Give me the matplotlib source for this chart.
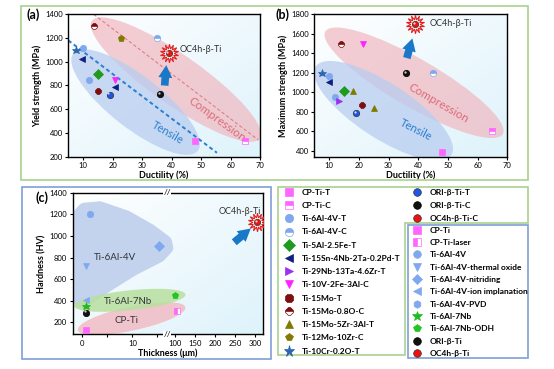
import numpy as np
import matplotlib
matplotlib.use("Agg")
import matplotlib.pyplot as plt
from matplotlib.patches import Ellipse, Polygon, Rectangle
from matplotlib.lines import Line2D
from matplotlib.transforms import ScaledTranslation
from matplotlib.colors import LinearSegmentedColormap

plt.rcParams['font.family'] = ['Lato', 'DejaVu Sans']

# ---- data ----
a_names = ['Ti-15Mo-0.8O-C', 'Ti-12Mo-10Zr-C', 'Ti-6Al-4V-C', 'Ti-6Al-4V-T',
           'Ti-10Cr-0.2O-T', 'Ti-15Sn-4Nb-2Ta-0.2Pd-T', 'Ti-6Al-4V-T', 'Ti-5Al-2.5Fe-T',
           'Ti-15Mo-T', 'Ti-10V-2Fe-3Al-C', 'Ti-15Sn-4Nb-2Ta-0.2Pd-T', 'ORI-β-Ti-T',
           'ORI-β-Ti-C', 'CP-Ti-T', 'CP-Ti-C', 'OC4h-β-Ti-C']
a_ductility = [13.6, 23, 35, 10, 7.7, 9.5, 12, 15, 15, 21, 20.8, 19, 36, 48, 65, 39]
a_yield = [1300, 1200, 1200, 1120, 1100, 1020, 845, 895, 750, 850, 790, 723, 725, 333, 333, 1070]

b_names = ['Ti-15Mo-0.8O-C', 'Ti-10V-2Fe-3Al-C', 'ORI-β-Ti-C', 'Ti-6Al-4V-C',
           'Ti-10Cr-0.2O-T', 'Ti-6Al-4V-T', 'Ti-15Sn-4Nb-2Ta-0.2Pd-T', 'Ti-5Al-2.5Fe-T',
           'Ti-15Mo-5Zr-3Al-T', 'Ti-6Al-4V-T', 'Ti-29Nb-13Ta-4.6Zr-T', 'Ti-15Mo-T',
           'Ti-15Mo-5Zr-3Al-T', 'ORI-β-Ti-T', 'CP-Ti-C', 'CP-Ti-T', 'OC4h-β-Ti-C']
b_ductility = [14, 21.3, 36, 45, 7.7, 10, 9.8, 15, 18, 12, 13.3, 21, 25, 19, 65, 48, 39]
b_strength = [1500, 1500, 1200, 1200, 1200, 1167, 1110, 1016, 1015, 955, 906, 865, 835, 783, 600, 390, 1700]

c_names = ['Ti-6Al-4V', 'Ti-6Al-4V-nitriding', 'Ti-6Al-4V-thermal oxide',
           'Ti-6Al-4V-ion implanation', 'Ti-6Al-7Nb', 'ORI-β-Ti', 'CP-Ti',
           'Ti-6Al-7Nb-ODH', 'CP-Ti-laser', 'OC4h-β-Ti']
c_thickness = [1.5, 15.4, 0.7, 0.7, 0.7, 0.7, 0.7, 98, 105, 305]
c_hardness = [1206, 906, 720, 407, 350, 290, 130, 455, 305, 1130]

legend_left = ['CP-Ti-T', 'CP-Ti-C', 'Ti-6Al-4V-T', 'Ti-6Al-4V-C', 'Ti-5Al-2.5Fe-T',
               'Ti-15Sn-4Nb-2Ta-0.2Pd-T', 'Ti-29Nb-13Ta-4.6Zr-T', 'Ti-10V-2Fe-3Al-C',
               'Ti-15Mo-T', 'Ti-15Mo-0.8O-C', 'Ti-15Mo-5Zr-3Al-T', 'Ti-12Mo-10Zr-C',
               'Ti-10Cr-0.2O-T']
legend_right = ['ORI-β-Ti-T', 'ORI-β-Ti-C', 'OC4h-β-Ti-C']
legend_c = ['CP-Ti', 'CP-Ti-laser', 'Ti-6Al-4V', 'Ti-6Al-4V-thermal oxide',
            'Ti-6Al-4V-nitriding', 'Ti-6Al-4V-ion implanation', 'Ti-6Al-4V-PVD',
            'Ti-6Al-7Nb', 'Ti-6Al-7Nb-ODH', 'ORI-β-Ti', 'OC4h-β-Ti']

# ---- marker styles ----
MAG = '#ff66ff'
LB = '#80a8ee'
STYLE = {
    'CP-Ti-T': ('s', MAG, 'full'),
    'CP-Ti-C': ('s', MAG, 'top'),
    'Ti-6Al-4V-T': ('o', LB, 'full'),
    'Ti-6Al-4V-C': ('o', LB, 'top'),
    'Ti-5Al-2.5Fe-T': ('D', '#1f9a1f', 'full'),
    'Ti-15Sn-4Nb-2Ta-0.2Pd-T': ('<', '#0d1f80', 'full'),
    'Ti-29Nb-13Ta-4.6Zr-T': ('>', '#9b30f0', 'full'),
    'Ti-10V-2Fe-3Al-C': ('v', '#ff22ff', 'full'),
    'Ti-15Mo-T': ('8', '#7d0f0f', 'full'),
    'Ti-15Mo-0.8O-C': ('8', '#7d0f0f', 'top'),
    'Ti-15Mo-5Zr-3Al-T': ('^', '#7f7a00', 'full'),
    'Ti-12Mo-10Zr-C': ('p', '#7f7a00', 'full'),
    'Ti-10Cr-0.2O-T': ('*', '#2e65b0', 'full'),
    'ORI-β-Ti-T': ('o', '#1f55e8', 'sphere'),
    'ORI-β-Ti-C': ('o', '#111111', 'sphere'),
    'OC4h-β-Ti-C': ('o', '#ee1111', 'sphere'),
    'CP-Ti': ('s', MAG, 'full'),
    'CP-Ti-laser': ('s', MAG, 'left'),
    'Ti-6Al-4V': ('o', LB, 'full'),
    'Ti-6Al-4V-thermal oxide': ('v', LB, 'full'),
    'Ti-6Al-4V-nitriding': ('D', LB, 'full'),
    'Ti-6Al-4V-ion implanation': ('<', LB, 'full'),
    'Ti-6Al-4V-PVD': ('h', LB, 'full'),
    'Ti-6Al-7Nb': ('*', '#22b822', 'full'),
    'Ti-6Al-7Nb-ODH': ('p', '#22c522', 'full'),
    'ORI-β-Ti': ('o', '#111111', 'sphere'),
    'OC4h-β-Ti': ('o', '#ee1111', 'sphere'),
}

W, H = 554, 369
fig = plt.figure(figsize=(W / 100, H / 100), dpi=100)
bg = LinearSegmentedColormap.from_list('bg', ['#ffffff', '#def3fb'])


def fr(x, y):
    return x / W, 1 - y / H


def mstyle(name, ms):
    m, c, fs = STYLE[name]
    kw = dict(marker=m, ms=ms, linestyle='none', mec=c, mew=0.5)
    if fs == 'sphere':
        kw.update(mfc=c, mec='#333333' if c != '#111111' else '#000000')
    elif fs == 'full':
        kw.update(mfc=c)
    else:
        kw.update(mfc=c, fillstyle=fs, markerfacecoloralt='white')
    if m == '*':
        kw['ms'] = ms * 1.35
    return kw


def draw_points(ax, names, xs, ys, ms=4.6):
    hl = ScaledTranslation(-0.012, 0.012, fig.dpi_scale_trans)
    for n, x, y in zip(names, xs, ys):
        if n.startswith('OC4h'):
            ax.plot(x, y, marker=(14, 1, 0), ms=ms * 2.9, mfc='white', mec='#e02020',
                    mew=0.8, linestyle='none', zorder=4)
        ax.plot(x, y, zorder=5, **mstyle(n, ms))
        if STYLE[n][2] == 'sphere':
            ax.plot(x, y, 'o', ms=ms * 0.35, mfc='white', mec='none', alpha=0.8,
                    transform=ax.transData + hl, zorder=6)


def px_ellipse(ax, cx, cy, w, h, angle, color, base=None, alpha=0.6):
    base = ax.transData if base is None else base
    tr = fig.dpi_scale_trans + ScaledTranslation(cx, cy, base)
    ax.add_patch(Ellipse((0, 0), w, h, angle=angle, transform=tr, fc=color,
                         ec='none', alpha=alpha, zorder=1))


def gradient(ax):
    g = np.add.outer(np.linspace(0, 1, 64), np.linspace(0, 1, 64)) / 2
    ax.imshow(g, cmap=bg, extent=(0, 1, 0, 1), transform=ax.transAxes,
              aspect='auto', zorder=0, origin='upper')


def style_axes(ax):
    ax.tick_params(direction='out', length=2.5, width=0.8, labelsize=5.5, pad=1.5)
    for s in ax.spines.values():
        s.set_linewidth(1.0)


arrow_kw = dict(arrowstyle='simple,head_length=0.9,head_width=1.0,tail_width=0.55',
                color='#1a78c8', lw=0)

# ---- panel (a) ----
x0, y0 = fr(68.3, 156.7)
x1, y1 = fr(260, 14.3)
ax_a = fig.add_axes([x0, y0, x1 - x0, y1 - y0])
gradient(ax_a)
px_ellipse(ax_a, 41.5, 850, 2.05, 0.5, -35, '#f0b8c0', alpha=0.7)
px_ellipse(ax_a, 27.8, 660, 1.58, 0.52, -38, '#b9cdef', alpha=0.75)
ax_a.plot([13.6, 69.5], [1400, 340], '--', color='#e87a82', lw=0.8, dashes=(3, 2), zorder=2)
ax_a.plot([5, 55.4], [1180, 233], '--', color='#2a7fd0', lw=1.4, dashes=(2, 1.5), zorder=2)
draw_points(ax_a, a_names, a_ductility, a_yield)
ax_a.annotate('', xy=(38.3, 995), xytext=(37.6, 776), arrowprops=arrow_kw, zorder=6)
ax_a.text(42.7, 1100, 'OC4h-β-Ti', fontsize=6.5, color='#333333', va='center')
ax_a.text(55.5, 517, 'Compression', fontsize=8.5, color='#e06a78', rotation=-36,
          ha='center', va='center')
ax_a.text(38.7, 405, 'Tensile', fontsize=8, color='#2a7fd0', rotation=-30,
          ha='center', va='center')
ax_a.set_xlim(5, 70)
ax_a.set_ylim(200, 1400)
ax_a.set_xticks(np.arange(10, 71, 10))
ax_a.set_yticks(np.arange(200, 1401, 200))
ax_a.set_xlabel('Ductility (%)', fontsize=6.5, fontweight='bold', labelpad=1)
ax_a.set_ylabel('Yield strength (MPa)', fontsize=6.5, fontweight='bold', labelpad=2)
style_axes(ax_a)

# ---- panel (b) ----
x0, y0 = fr(314.3, 156.7)
x1, y1 = fr(507.3, 14.3)
ax_b = fig.add_axes([x0, y0, x1 - x0, y1 - y0])
gradient(ax_b)
px_ellipse(ax_b, 38.6, 1098, 2.05, 0.48, -30, '#f0b8c0', alpha=0.7)
px_ellipse(ax_b, 28.3, 811, 1.62, 0.55, -33, '#b9cdef', alpha=0.75)
draw_points(ax_b, b_names, b_ductility, b_strength)
ax_b.annotate('', xy=(38.3, 1580), xytext=(35.9, 1324), arrowprops=arrow_kw, zorder=6)
ax_b.text(44, 1708, 'OC4h-β-Ti', fontsize=6.5, color='#333333', va='center')
ax_b.text(46.9, 886, 'Compression', fontsize=8.5, color='#e06a78', rotation=-30,
          ha='center', va='center')
ax_b.text(39.3, 612, 'Tensile', fontsize=8, color='#2a7fd0', rotation=-27,
          ha='center', va='center')
ax_b.set_xlim(5, 70)
ax_b.set_ylim(340, 1800)
ax_b.set_xticks(np.arange(10, 71, 10))
ax_b.set_yticks(np.arange(400, 1801, 200))
ax_b.set_xlabel('Ductility (%)', fontsize=6.5, fontweight='bold', labelpad=1)
ax_b.set_ylabel('Maximum strength (MPa)', fontsize=6.5, fontweight='bold', labelpad=2)
style_axes(ax_b)


# ---- panel (c): broken thickness axis ----
def fwd(x):
    x = np.asarray(x, float)
    return np.where(x <= 17, x, np.where(x >= 80, 17 + (x - 80) * 0.08, 17))


def inv(u):
    u = np.asarray(u, float)
    return np.where(u <= 17, u, 80 + (u - 17) / 0.08)


x0, y0 = fr(72.7, 334.3)
x1, y1 = fr(263.3, 192.7)
ax_c = fig.add_axes([x0, y0, x1 - x0, y1 - y0])
ax_c.set_xscale('function', functions=(fwd, inv))
gradient(ax_c)
blob = [(0.03, 0.84), (0.06, 0.885), (0.143, 0.895), (0.283, 0.83), (0.406, 0.736),
        (0.488, 0.654), (0.495, 0.61), (0.455, 0.552), (0.318, 0.458), (0.178, 0.34),
        (0.091, 0.26), (0.04, 0.23), (0.026, 0.27), (0.022, 0.572)]
ax_c.add_patch(Polygon(blob, closed=True, transform=ax_c.transAxes, fc='#c3d3ee',
                       ec='#c3d3ee', lw=9, joinstyle='round', zorder=1))
px_ellipse(ax_c, 0.309, 0.111, 1.1, 0.24, 12, '#f2bcc4', base=ax_c.transAxes, alpha=0.85)
px_ellipse(ax_c, 0.30, 0.24, 1.12, 0.2, 6, '#b8e0a0', base=ax_c.transAxes, alpha=0.85)
draw_points(ax_c, c_names, c_thickness, c_hardness)
ax_c.annotate('', xy=(294, 1085), xytext=(242, 925), arrowprops=arrow_kw, zorder=6)
ax_c.text(261, 1225, 'OC4h-β-Ti', fontsize=6.5, color='#333333', ha='center', va='center')
ax_c.text(0.222, 0.544, 'Ti-6Al-4V', transform=ax_c.transAxes, fontsize=7,
          color='#333333', ha='center', va='center')
ax_c.text(0.292, 0.231, 'Ti-6Al-7Nb', transform=ax_c.transAxes, fontsize=7,
          color='#333333', ha='center', va='center')
ax_c.text(0.28, 0.096, 'CP-Ti', transform=ax_c.transAxes, fontsize=7,
          color='#333333', ha='center', va='center')
ax_c.set_xlim(-1.93, 320)
ax_c.set_ylim(90, 1400)
ax_c.set_xticks([0, 5, 10, 15, 100, 150, 200, 250, 300])
ax_c.set_xticklabels(['0', '', '10', '', '100', '150', '200', '250', '300'])
ax_c.set_yticks(np.arange(200, 1401, 200))
ax_c.set_xlabel('Thickness (μm)', fontsize=6.5, fontweight='bold', labelpad=1)
ax_c.set_ylabel('Hardness (HV)', fontsize=6.5, fontweight='bold', labelpad=2)
style_axes(ax_c)
brk = ax_c.get_xaxis_transform()
for yy in (0, 1):
    ax_c.text(17, yy, '//', transform=brk, fontsize=6, ha='center', va='center',
              bbox=dict(fc='white', ec='none', pad=0.2), zorder=7, clip_on=False)

# ---- panel labels ----
for lab, (px, py) in zip(['(a)', '(b)', '(c)'], [(33, 15), (283, 15), (42, 198)]):
    fig.text(*fr(px, py), lab, fontsize=9, fontweight='bold', ha='center', va='center')


# ---- frames ----
def frame_rect(xa, ya, xb, yb, color):
    fa = fr(xa, yb)
    fig.add_artist(Rectangle(fa, (xb - xa) / W, (yb - ya) / H, transform=fig.transFigure,
                             fill=False, ec=color, lw=1.2))


GREEN = '#a9d18e'
BLUE = '#7f9fd8'
frame_rect(21, 6, 528, 180, GREEN)
frame_rect(22, 187, 271, 359, BLUE)
outline = [fr(278, 187), fr(528, 187), fr(528, 223), fr(405, 223), fr(405, 355), fr(278, 355)]
fig.add_artist(Polygon(outline, closed=True, transform=fig.transFigure, fill=False,
                       ec=GREEN, lw=1.2))
frame_rect(408, 225, 528, 358, BLUE)


# ---- legends ----
def handles(names, ms):
    return [Line2D([], [], **mstyle(n, ms)) for n in names]


leg_kw = dict(loc='upper left', frameon=False, borderaxespad=0, borderpad=0.2,
              handlelength=1.2, handletextpad=1.0,
              prop=dict(size=6, weight='bold'))
fig.legend(handles(legend_left, 6), legend_left, bbox_to_anchor=fr(282, 187),
           labelspacing=0.75, **leg_kw)
fig.legend(handles(legend_right, 5.5), legend_right, bbox_to_anchor=fr(410, 187),
           labelspacing=0.72, **leg_kw)
fig.legend(handles(legend_c, 5.5), legend_c, bbox_to_anchor=fr(410, 225),
           labelspacing=0.64, **leg_kw)

fig.savefig('out.png', dpi=100)
